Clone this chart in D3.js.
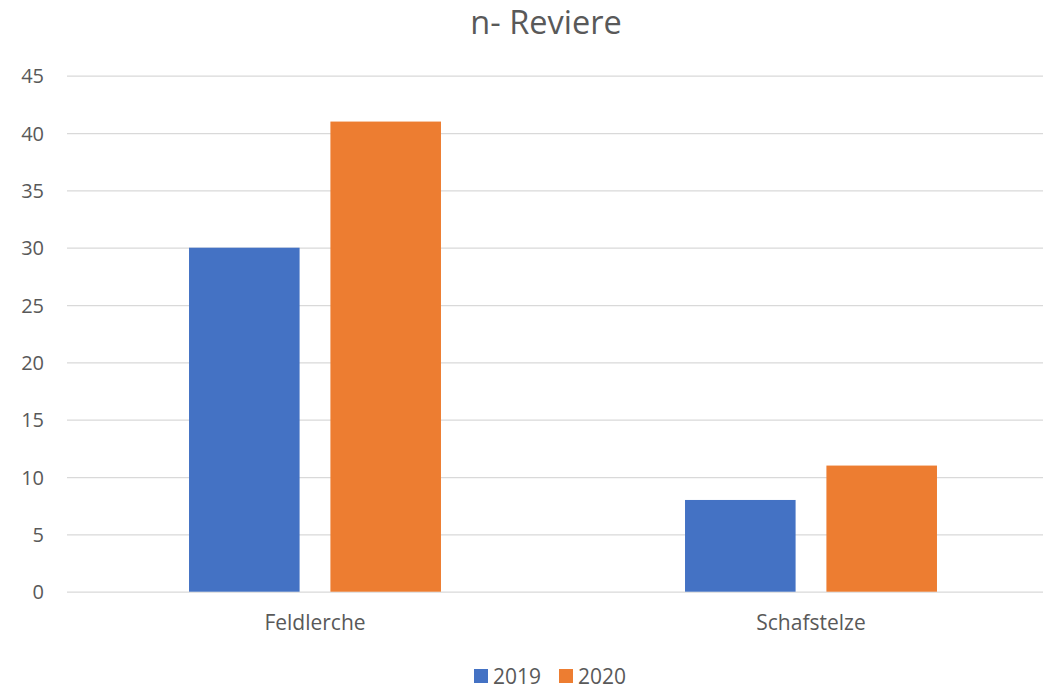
<!DOCTYPE html>
<html>
<head>
<meta charset="utf-8">
<script src="https://cdn.jsdelivr.net/npm/d3@7"></script>
<style>
  body { margin: 0; background: #fff; }
  text { font-family: "Open Sans", Lato, sans-serif; fill: #595959; }
  .grid line { stroke: #d9d9d9; stroke-width: 1.3; }
  .grid .domain { display: none; }
</style>
</head>
<body>
<script>
// chart data
const categories = ['Feldlerche', 'Schafstelze'];
const series = ['2019', '2020'];
const values2019 = [30, 8];
const values2020 = [41, 11];
const colors = ['#4472c4', '#ed7d31'];
const yTicks = [0, 5, 10, 15, 20, 25, 30, 35, 40, 45];

// svg params
const svgW = 1043;
const svgH = 690;
const plotX = [67, 1059];
const plotY = [591.7, 75.7];

const svg = d3.select('body').append('svg').attr('width', svgW).attr('height', svgH);

const y = d3.scaleLinear().domain([0, 45]).range(plotY);
const x0 = d3.scaleBand().domain(categories).range(plotX);
const x1 = d3.scaleBand().domain(series).range([0, x0.bandwidth()])
	.paddingInner(0.218).paddingOuter(0.863);

const rows = categories.map((c, i) => ({ cat: c, vals: [values2019[i], values2020[i]] }));

// gridlines
svg.append('g')
	.attr('class', 'grid')
	.attr('transform', 'translate(' + plotX[0] + ',0)')
	.call(d3.axisRight(y).tickValues(yTicks).tickSize(plotX[1] - plotX[0]).tickFormat(''));

// y labels
svg.selectAll('.ylab')
	.data(yTicks)
	.enter()
	.append('text')
	.attr('class', 'ylab')
	.attr('x', 44)
	.attr('y', (d) => y(d) + 7.5)
	.attr('text-anchor', 'end')
	.attr('font-size', 20)
	.text((d) => d);

// bars
const groups = svg.selectAll('.grp')
	.data(rows)
	.enter()
	.append('g')
	.attr('transform', (d) => 'translate(' + x0(d.cat) + ',0)');

groups.selectAll('rect')
	.data((d) => d.vals.map((v, i) => ({ s: series[i], v: v, i: i })))
	.enter()
	.append('rect')
	.attr('x', (d) => x1(d.s))
	.attr('width', x1.bandwidth())
	.attr('y', (d) => y(d.v))
	.attr('height', (d) => y(0) - y(d.v))
	.attr('fill', (d) => colors[d.i]);

// category labels
svg.selectAll('.xlab')
	.data(categories)
	.enter()
	.append('text')
	.attr('class', 'xlab')
	.attr('x', (d) => x0(d) + x0.bandwidth() / 2)
	.attr('y', 630)
	.attr('text-anchor', 'middle')
	.attr('font-size', 21)
	.text((d) => d);

// title
svg.append('text')
	.attr('x', 546)
	.attr('y', 34)
	.attr('text-anchor', 'middle')
	.attr('font-size', 32.5)
	.text('n- Reviere');

// legend
const legX = [474, 559];
series.forEach((s, i) => {
	svg.append('rect')
		.attr('x', legX[i])
		.attr('y', 669)
		.attr('width', 14)
		.attr('height', 14)
		.attr('fill', colors[i]);
	svg.append('text')
		.attr('x', legX[i] + 19)
		.attr('y', 684)
		.attr('font-size', 21)
		.text(s);
});
</script>
</body>
</html>
